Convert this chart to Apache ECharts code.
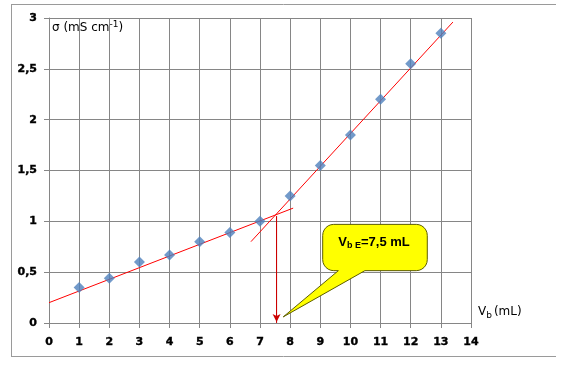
<!DOCTYPE html>
<html><head><meta charset="utf-8">
<script src="https://cdn.jsdelivr.net/npm/echarts@6/dist/echarts.min.js"></script>
<style>html,body{margin:0;padding:0;background:#fff}#c{width:567px;height:388px}</style>
</head><body><div id="c"></div><script>
// Measured data
const volumes = [1, 2, 3, 4, 5, 6, 7, 8, 9, 10, 11, 12, 13];
const conductivity = [0.35, 0.44, 0.60, 0.67, 0.80, 0.89, 1.00, 1.25, 1.55, 1.85, 2.20, 2.55, 2.85];
// Trend lines (endpoints)
const fitBefore = [[0, 0.2], [8.1, 1.13]];
const fitAfter = [[6.7, 0.8], [13.4, 2.96]];
// Equivalence point
const equivalenceX = 7.55;
const equivalenceY = 1.05;
const calloutText = ['V', 'b E', '=7,5 mL'];
// Axis ranges / ticks
const xMin = 0, xMax = 14, xStep = 1;
const yMin = 0, yMax = 3, yStep = 0.5;

const chart = echarts.init(document.getElementById('c'), null, {renderer: 'canvas'});
const gridColor = '#868686';
const labelFont = {color: '#000', fontFamily: 'DejaVu Sans', fontWeight: 'bold', fontSize: 11, textBorderColor: '#000', textBorderWidth: 0.4};

chart.setOption({
  animation: false,
  grid: {left: 49, right: 96, top: 18, bottom: 65, containLabel: false},
  xAxis: {
    type: 'value', min: xMin, max: xMax, interval: xStep,
    axisLine: {show: true, onZero: false, lineStyle: {color: gridColor, width: 1}},
    axisTick: {show: true, inside: false, length: 5, lineStyle: {color: gridColor}},
    axisLabel: Object.assign({margin: 14}, labelFont),
    splitLine: {show: true, lineStyle: {color: gridColor, width: 1}}
  },
  yAxis: {
    type: 'value', min: yMin, max: yMax, interval: yStep,
    axisLine: {show: true, onZero: false, lineStyle: {color: gridColor, width: 1}},
    axisTick: {show: true, inside: false, length: 5, lineStyle: {color: gridColor}},
    axisLabel: Object.assign({margin: 12, formatter: v => String(v).replace('.', ',')}, labelFont),
    splitLine: {show: true, lineStyle: {color: gridColor, width: 1}}
  },
  series: [
    {type: 'line', data: fitBefore, symbol: 'none', lineStyle: {color: '#ff0000', width: 1}, z: 3},
    {type: 'line', data: fitAfter, symbol: 'none', lineStyle: {color: '#ff0000', width: 1}, z: 3},
    {type: 'line', data: [[equivalenceX, equivalenceY], [equivalenceX, 0]], symbol: 'none',
      lineStyle: {color: '#cc0000', width: 1}, z: 3,
      markLine: {silent: true, symbol: ['none', 'arrow'], symbolSize: [6, 8], label: {show: false},
        lineStyle: {color: '#cc0000', width: 1, type: 'solid'},
        data: [[{coord: [equivalenceX, equivalenceY]}, {coord: [equivalenceX, 0.01]}]]}},
    {type: 'scatter', data: volumes.map((v, i) => [v, conductivity[i]]), symbol: 'diamond',
      symbolSize: [11, 11], itemStyle: {color: '#4f81bd'}, z: 4}
  ]
});

// Callout anchored in data coordinates
const p = (x, y) => chart.convertToPixel({gridIndex: 0}, [x, y]);
const tl = p(9.08, 0.97), br = p(12.55, 0.515);
const t1 = p(9.6, 0.515), t2 = p(10.48, 0.515), tip = p(7.77, 0.06);
const L = tl[0], T = tl[1], R = br[0], B = br[1], r = 11;
function arc(cx, cy, a0, a1) {
  const pts = [];
  for (let k = 0; k <= 6; k++) {
    const a = a0 + (a1 - a0) * k / 6;
    pts.push([cx + r * Math.cos(a), cy + r * Math.sin(a)]);
  }
  return pts;
}
const H = Math.PI / 2;
const pts = [].concat(
  arc(L + r, T + r, 2 * H, 3 * H),
  arc(R - r, T + r, 3 * H, 4 * H),
  arc(R - r, B - r, 0, H),
  [[t2[0], B], [tip[0], tip[1]], [t1[0], B]],
  arc(L + r, B - r, H, 2 * H)
);

chart.setOption({
  graphic: [
    {type: 'polyline', shape: {points: [[11, 4.5], [556, 4.5]]}, style: {stroke: '#9a9a9a', lineWidth: 1}, silent: true},
    {type: 'polyline', shape: {points: [[11.5, 4], [11.5, 357]]}, style: {stroke: '#9a9a9a', lineWidth: 1}, silent: true},
    {type: 'polyline', shape: {points: [[11, 356.5], [556, 356.5]]}, style: {stroke: '#9a9a9a', lineWidth: 1}, silent: true},
    {type: 'polygon', shape: {points: pts}, style: {fill: '#ffff00', stroke: '#5c5c00', lineWidth: 1}, z: 10},
    {type: 'text', x: (L + R) / 2 - 1, y: T + 18, z: 11, style: {
      text: `{v|${calloutText[0]}}{s|${calloutText[1]}}{v|${calloutText[2]}}`,
      align: 'center', verticalAlign: 'middle',
      rich: {
        v: {fontFamily: 'Liberation Sans', fontWeight: 'bold', fontSize: 13, lineHeight: 16, fill: '#000'},
        s: {fontFamily: 'Liberation Sans', fontWeight: 'bold', fontSize: 9, lineHeight: 16, verticalAlign: 'bottom', fill: '#000'}
      }}},
    {type: 'text', x: 52, y: 28, z: 11, style: {
      text: '{n|σ (mS cm}{u|-1}{n|)}', verticalAlign: 'middle',
      rich: {
        n: {fontFamily: 'DejaVu Sans', fontSize: 12, lineHeight: 16, fill: '#000'},
        u: {fontFamily: 'DejaVu Sans', fontSize: 9, lineHeight: 16, verticalAlign: 'top', fill: '#000'}
      }}},
    {type: 'text', x: 478, y: 312, z: 11, style: {
      text: '{n|V}{s|b}{n|(mL)}', verticalAlign: 'middle',
      rich: {
        n: {fontFamily: 'DejaVu Sans', fontSize: 12, lineHeight: 16, fill: '#000'},
        s: {fontFamily: 'DejaVu Sans', fontSize: 9, lineHeight: 16, verticalAlign: 'bottom', fill: '#000', padding: [0, 2, 0, 0]}
      }}}
  ]
});
</script></body></html>
